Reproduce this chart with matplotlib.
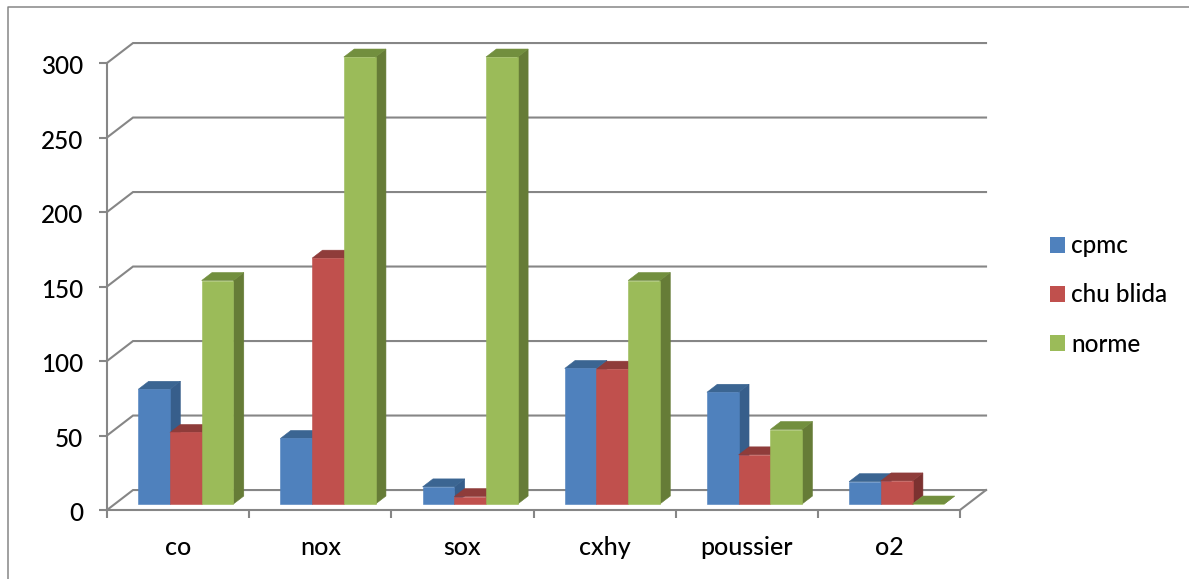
import matplotlib
matplotlib.use("Agg")
import matplotlib.pyplot as plt
from matplotlib.lines import Line2D
from matplotlib.patches import Patch
from matplotlib.transforms import ScaledTranslation

plt.rcParams['font.family'] = ['Lato', 'DejaVu Sans']

categories = ['co', 'nox', 'sox', 'cxhy', 'poussier', 'o2']
series_names = ['cpmc', 'chu blida', 'norme']
cpmc = [77, 44, 11.5, 91, 75, 15]
chu_blida = [48, 165, 5, 90.5, 33, 15.5]
norme = [150, 300, 300, 150, 50, 0]
y_ticks = [0, 50, 100, 150, 200, 250, 300]

front_colors = ['#4F81BD', '#C0504D', '#9BBB59']
top_colors = ['#3B6592', '#8F3C3A', '#728F3E']
side_colors = ['#375E8B', '#7C3230', '#667C37']
axis_color = '#868686'

W, H = 1189, 579
# 3D look: how far the back wall sits from the front, in data units
DEPTH_X = 0.183
DEPTH_Y = 13.4
BAR_W = 0.223
BAR_START = 0.165
BAR_NEAR, BAR_FAR = 0.3, 0.7


def project(x, v, depth):
    return x + depth * DEPTH_X, v + depth * DEPTH_Y


def draw_bar(ax, left, value, idx, z):
    right = left + BAR_W
    corners = [(left, 0, BAR_NEAR), (right, 0, BAR_NEAR), (right, value, BAR_NEAR), (left, value, BAR_NEAR)]
    top = [(left, value, BAR_NEAR), (right, value, BAR_NEAR), (right, value, BAR_FAR), (left, value, BAR_FAR)]
    side = [(right, 0, BAR_NEAR), (right, 0, BAR_FAR), (right, value, BAR_FAR), (right, value, BAR_NEAR)]
    for face, color in ((side, side_colors[idx]), (top, top_colors[idx]), (corners, front_colors[idx])):
        pts = [project(*p) for p in face]
        ax.fill([p[0] for p in pts], [p[1] for p in pts], color=color, lw=0.4, clip_on=False, zorder=z)


fig = plt.figure(figsize=(W / 100, H / 100), dpi=100)
ax = fig.add_axes([107 / W, (H - 510) / H, 853 / W, 447 / H])
ax.set_xlim(0, 6)
ax.set_ylim(0, 300)

# chart frame, only the top and left edges show
fig.add_artist(Line2D([7.5 / W, 7.5 / W, 1], [0, (H - 6.5) / H, (H - 6.5) / H], color=axis_color, lw=1.1))

for spine in ['top', 'right']:
    ax.spines[spine].set_visible(False)
for spine in ['left', 'bottom']:
    ax.spines[spine].set_color(axis_color)
    ax.spines[spine].set_linewidth(1.5)

ax.set_yticks(y_ticks)
ax.set_xticks(range(len(categories) + 1))
ax.set_xticks([i + 0.5 for i in range(len(categories))], categories, minor=True)
ax.set_xticklabels([])
ax.tick_params(axis='y', length=6, width=1.5, color=axis_color, labelsize=17.5, pad=11, labelcolor='black')
ax.tick_params(axis='x', which='major', length=6, width=1.5, color=axis_color)
ax.tick_params(axis='x', which='minor', length=0, labelsize=18, pad=19, labelcolor='black')

# nudge the value labels down a little so they sit level with their ticks
nudge = ScaledTranslation(0, -1.2 / 72, fig.dpi_scale_trans)
for label in ax.get_yticklabels():
    label.set_verticalalignment('center_baseline')
    label.set_fontweight('medium')
    label.set_transform(label.get_transform() + nudge)
for label in ax.get_xticklabels(minor=True):
    label.set_fontweight('medium')

# gridlines run up the side wall, then along the back wall
for v in y_ticks:
    bx, by = project(0, v, 1)
    ax.plot([0, bx, 6 + DEPTH_X], [v, by, by], color=axis_color, lw=1.5, clip_on=False, zorder=1,
            solid_joinstyle='miter')
rx, ry = project(6, 0, 1)
ax.plot([6, rx], [0, ry], color=axis_color, lw=1.5, clip_on=False, zorder=1)

for c in range(len(categories)):
    for s, values in enumerate([cpmc, chu_blida, norme]):
        draw_bar(ax, c + BAR_START + s * BAR_W, values[c], s, 3 + s)

handles = [Patch(facecolor=col, edgecolor='none', label=name) for col, name in zip(front_colors, series_names)]
leg = fig.legend(handles=handles, loc='center left', bbox_to_anchor=(1050 / W, (H - 295) / H), frameon=False,
                 fontsize=17.5, handlelength=0.62, handleheight=0.62, handletextpad=0.26, labelspacing=1.08,
                 borderpad=0, borderaxespad=0, labelcolor='black')
for text in leg.get_texts():
    text.set_fontweight('medium')

fig.savefig('out.png', dpi=100)
